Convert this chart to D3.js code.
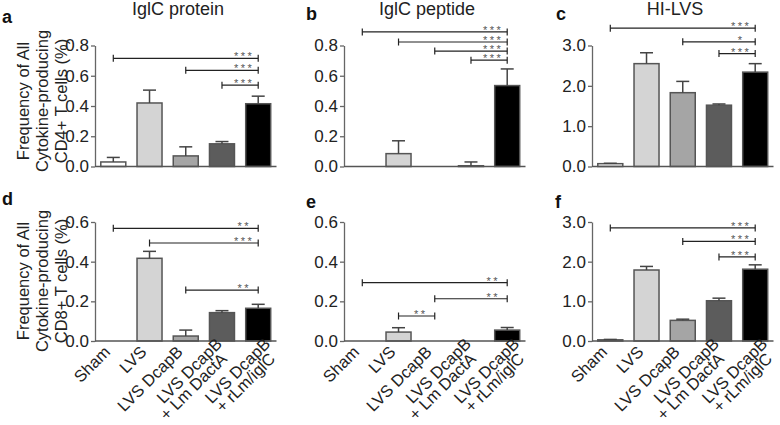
<!DOCTYPE html>
<html>
<head>
<meta charset="utf-8">
<script src="https://cdn.jsdelivr.net/npm/d3@7"></script>
<style>
  body { margin: 0; background: #fff; }
  svg { font-family: "Liberation Sans", Arial, sans-serif; }
</style>
</head>
<body>
<div id="chart"></div>
<script>
// Groups (x categories)
var groups = ["Sham", "LVS", "LVS DcapB", "LVS DcapB + Lm DactA", "LVS DcapB + rLm/iglC"];
var groupLabelLines = [["Sham"], ["LVS"], ["LVS DcapB"], ["LVS DcapB", "+ Lm DactA"], ["LVS DcapB", "+ rLm/iglC"]];
var groupFills = ["#ffffff", "#d4d4d4", "#a5a5a5", "#5c5c5c", "#000000"];

// CD4+ row
var aMeans = [0.03, 0.42, 0.07, 0.15, 0.415];
var aSems  = [0.03, 0.085, 0.06, 0.015, 0.05];
var aSig   = [[0, 4, 0.715, "***"], [2, 4, 0.636, "***"], [3, 4, 0.538, "***"]];

var bMeans = [0, 0.085, 0, 0.005, 0.535];
var bSems  = [0, 0.085, 0, 0.025, 0.11];
var bSig   = [[0, 4, 0.89, "***"], [1, 4, 0.823, "***"], [2, 4, 0.763, "***"], [3, 4, 0.703, "***"]];

var cMeans = [0.07, 2.55, 1.83, 1.52, 2.34];
var cSems  = [0.01, 0.27, 0.28, 0.03, 0.21];
var cSig   = [[0, 4, 3.43, "***"], [2, 4, 3.09, "*"], [3, 4, 2.80, "***"]];

// CD8+ row
var dMeans = [0, 0.417, 0.025, 0.143, 0.165];
var dSems  = [0, 0.035, 0.03, 0.01, 0.02];
var dSig   = [[0, 4, 0.568, "**"], [1, 4, 0.494, "***"], [2, 4, 0.257, "**"]];

var eMeans = [0, 0.045, 0, 0, 0.055];
var eSems  = [0, 0.022, 0, 0, 0.013];
var eSig   = [[0, 4, 0.294, "**"], [2, 4, 0.213, "**"], [1, 2, 0.126, "**"]];

var fMeans = [0.03, 1.79, 0.52, 1.015, 1.81];
var fSems  = [0.01, 0.09, 0.03, 0.065, 0.11];
var fSig   = [[0, 4, 2.85, "***"], [2, 4, 2.51, "***"], [3, 4, 2.12, "***"]];

// Ticks
var ticksSmall = [0, 0.2, 0.4, 0.6, 0.8];
var ticksSmallB = [0, 0.2, 0.4, 0.6];
var ticksBig = [0, 1, 2, 3];

var titles = ["IglC protein", "IglC peptide", "HI-LVS"];
var rowTitles = [["Frequency of All", "Cytokine-producing", "CD4+ T cells (%)"],
                 ["Frequency of All", "Cytokine-producing", "CD8+ T cells (%)"]];

var panels = [
  {id: "a", col: 0, row: 0, max: 0.8, ticks: ticksSmall,  means: aMeans, sems: aSems, sig: aSig},
  {id: "b", col: 1, row: 0, max: 0.8, ticks: ticksSmall,  means: bMeans, sems: bSems, sig: bSig},
  {id: "c", col: 2, row: 0, max: 3.0, ticks: ticksBig,    means: cMeans, sems: cSems, sig: cSig},
  {id: "d", col: 0, row: 1, max: 0.6, ticks: ticksSmallB, means: dMeans, sems: dSems, sig: dSig},
  {id: "e", col: 1, row: 1, max: 0.6, ticks: ticksSmallB, means: eMeans, sems: eSems, sig: eSig},
  {id: "f", col: 2, row: 1, max: 3.0, ticks: ticksBig,    means: fMeans, sems: fSems, sig: fSig}
];

// Layout
var width = 780, height = 425;
var axisX = [95, 344, 592];
var rowZero = [166.5, 341];
var rowTop = [45.5, 222];
var bandSpan = 181.5;
var letterPos = [[[2, 23], [306, 20], [556, 20]], [[2, 205], [306, 208], [555, 208]]];

var svg = d3.select("#chart").append("svg")
  .attr("width", width)
  .attr("height", height);

var fmt = d3.format(".1f");

panels.forEach(function(p) {
  var x0 = axisX[p.col];
  var g = svg.append("g").attr("transform", "translate(" + x0 + ",0)");

  var x = d3.scaleBand().domain(groups).range([0, bandSpan])
    .paddingInner(0.31).paddingOuter(0.16);
  var y = d3.scaleLinear().domain([0, p.max]).range([rowZero[p.row], rowTop[p.row]]);

  // y axis
  var yAxis = g.append("g")
    .call(d3.axisLeft(y).tickValues(p.ticks).tickFormat(fmt).tickSize(4).tickSizeOuter(0).tickPadding(2));
  yAxis.attr("font-family", "Liberation Sans, Arial, sans-serif").attr("font-size", 17);
  yAxis.select(".domain").attr("stroke", "#666").attr("stroke-width", 1.3);
  yAxis.selectAll(".tick line").attr("stroke", "#666").attr("stroke-width", 1.3);
  yAxis.selectAll(".tick text").attr("fill", "#222");

  // bars
  g.selectAll("rect.bar")
    .data(p.means)
    .enter().append("rect")
      .attr("class", "bar")
      .attr("x", function(d, i) { return x(groups[i]); })
      .attr("y", function(d) { return y(d); })
      .attr("width", x.bandwidth())
      .attr("height", function(d) { return y(0) - y(d); })
      .attr("fill", function(d, i) { return groupFills[i]; })
      .attr("stroke", "#555")
      .attr("stroke-width", 1.5);

  // error bars (upper only)
  var capW = 13;
  p.means.forEach(function(m, i) {
    if (p.sems[i] <= 0) return;
    var cx = x(groups[i]) + x.bandwidth() / 2;
    g.append("line")
      .attr("x1", cx).attr("x2", cx)
      .attr("y1", y(m)).attr("y2", y(m + p.sems[i]))
      .attr("stroke", "#444").attr("stroke-width", 1.5);
    g.append("line")
      .attr("x1", cx - capW / 2).attr("x2", cx + capW / 2)
      .attr("y1", y(m + p.sems[i])).attr("y2", y(m + p.sems[i]))
      .attr("stroke", "#444").attr("stroke-width", 1.5);
  });

  // x baseline
  g.append("line")
    .attr("x1", 0).attr("x2", bandSpan)
    .attr("y1", y(0)).attr("y2", y(0))
    .attr("stroke", "#555").attr("stroke-width", 1.3);

  // significance brackets
  p.sig.forEach(function(s) {
    var xa = x(groups[s[0]]) + x.bandwidth() / 2;
    var xb = x(groups[s[1]]) + x.bandwidth() / 2;
    var yy = y(s[2]);
    g.append("line").attr("x1", xa).attr("x2", xb).attr("y1", yy).attr("y2", yy)
      .attr("stroke", "#222").attr("stroke-width", 1.2);
    [xa, xb].forEach(function(xx) {
      g.append("line").attr("x1", xx).attr("x2", xx).attr("y1", yy - 3.5).attr("y2", yy + 3.5)
        .attr("stroke", "#222").attr("stroke-width", 1.2);
    });
    g.append("text")
      .attr("x", xb - 14)
      .attr("y", yy + 2)
      .attr("text-anchor", "middle")
      .attr("font-size", 11)
      .attr("letter-spacing", 2.5)
      .attr("fill", "#555")
      .text(s[3]);
  });

  // x labels on the bottom row (two-line labels step further right)
  if (p.row == 1) {
    groupLabelLines.forEach(function(lines, i) {
      var cx = x(groups[i]) + x.bandwidth() / 2;
      var dx = lines.length > 1 ? (i - 3) * 12 + 1 : -2;
      var dy = lines.length > 1 ? 4 : 12;
      var lg = g.append("g")
        .attr("transform", "translate(" + (cx + dx) + "," + (y(0) + dy) + ") rotate(-45)");
      lines.forEach(function(t, k) {
        lg.append("text")
          .attr("x", -k * 7)
          .attr("y", k * 14)
          .attr("text-anchor", "end")
          .attr("font-size", 16.5)
          .attr("fill", "#222")
          .text(t);
      });
    });
  }

  // panel title
  if (p.row == 0) {
    svg.append("text")
      .attr("x", x0 + 83)
      .attr("y", 15)
      .attr("text-anchor", "middle")
      .attr("font-size", 18)
      .attr("fill", "#222")
      .text(titles[p.col]);
  }

  // panel letter
  var lp = letterPos[p.row][p.col];
  svg.append("text")
    .attr("x", lp[0]).attr("y", lp[1])
    .attr("font-size", 18)
    .attr("font-weight", "bold")
    .attr("fill", "#111")
    .text(p.id);
});

// row y-axis titles
var baseX = [29, 48, 67];
rowTitles.forEach(function(lines, r) {
  var cy = r == 0 ? 101 : 281;
  lines.forEach(function(t, k) {
    svg.append("text")
      .attr("transform", "translate(" + baseX[k] + "," + cy + ") rotate(-90)")
      .attr("text-anchor", "middle")
      .attr("font-size", 16.5)
      .attr("fill", "#222")
      .text(t);
  });
});
</script>
</body>
</html>
